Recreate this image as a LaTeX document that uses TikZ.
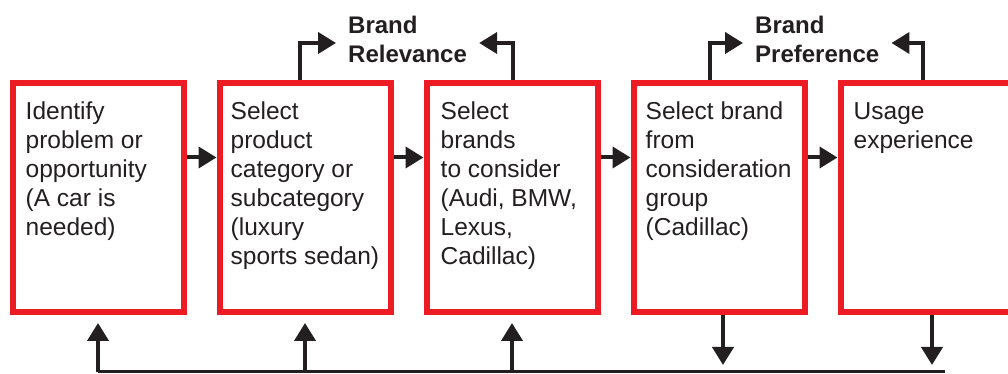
\documentclass[tikz,border=0pt]{standalone}
\usepackage{fontspec}
\setmainfont{Liberation Sans}
\usetikzlibrary{arrows.meta,positioning}
\definecolor{cStage}{HTML}{ED1C24}
\definecolor{cFlow}{HTML}{231F20}
\tikzset{
  stage/.style    ={draw=cStage, line width=6pt, minimum width=171pt, minimum height=229pt, inner sep=0pt},
  stagetext/.style={align=left, inner sep=0pt, text=cFlow, font=\fontsize{24.5}{29}\selectfont},
  tag/.style      ={align=left, inner xsep=12pt, inner ysep=0pt, text=cFlow, font=\fontsize{24}{29}\selectfont\bfseries},
  flow/.style     ={-{Triangle[length=18pt,width=21pt]}, line width=4pt, draw=cFlow},
}

\begin{document}
\begin{tikzpicture}[x=1pt,y=1pt]
        \clip (0,0) rectangle (1008,374);
        % the five stages
        \node[stage] (s1) at (98,176.5) {};
        \node[stage, right=30pt of s1] (s2) {};
        \node[stage, right=30pt of s2] (s3) {};
        \node[stage, right=30pt of s3] (s4) {};
        \node[stage, right=30pt of s4] (s5) {};
        \node[stagetext, below right=22pt and 16pt of s1.north west] (t1) {Identify\\problem or\\opportunity\\(A car is\\needed)};
        \node[stagetext, below right=22pt and 14pt of s2.north west] (t2) {Select\\product\\category or\\subcategory\\(luxury\\sports sedan)};
        \node[stagetext, below right=22pt and 17pt of s3.north west] (t3) {Select\\brands\\to consider\\(Audi, BMW,\\Lexus,\\Cadillac)};
        \node[stagetext, below right=22pt and 15pt of s4.north west] (t4) {Select brand\\from\\consideration\\group\\(Cadillac)};
        \node[stagetext, below right=22pt and 16pt of s5.north west] (t5) {Usage\\experience};
        \draw[flow] ([yshift=40pt]s1.east) -- ([yshift=40pt]s2.west);
        \draw[flow] ([yshift=40pt]s2.east) -- ([yshift=40pt]s3.west);
        \draw[flow] ([yshift=40pt]s3.east) -- ([yshift=40pt]s4.west);
        \draw[flow] ([yshift=40pt]s4.east) -- ([yshift=40pt]s5.west);
        % brand outcomes on top
        \node[tag, anchor=west] (rel) at (336,335) {Brand\\Relevance};
        \node[tag, anchor=west] (pref) at (743,335) {Brand\\Preference};
        \draw[flow] ([xshift=-5pt]s2.north) |- ([yshift=-4pt]rel.west);
        \draw[flow] ([xshift=1pt]s3.north) |- ([yshift=-4pt]rel.east);
        \draw[flow] ([xshift=-9pt]s4.north) |- ([yshift=-4pt]pref.west);
        \draw[flow] ([xshift=-3pt]s5.north) |- ([yshift=-4pt]pref.east);
        % feedback line underneath
        \coordinate (fbL) at (98,2);
        \coordinate (fbR) at (945,2);
        \draw[cFlow, line width=3pt] (fbL) -- (fbR);
        \draw[flow, shorten >=8pt] (s1.south |- fbL) -- (s1.south);
        \draw[flow, shorten >=8pt] (s2.south |- fbL) -- (s2.south);
        \draw[flow, shorten >=8pt] (s3.south |- fbL) -- (s3.south);
        \draw[flow, shorten >=7pt] ([xshift=4pt]s4.south) -- ([xshift=4pt]s4.south |- fbL);
        \draw[flow, shorten >=7pt] ([xshift=6pt]s5.south) -- ([xshift=6pt]s5.south |- fbL);
      \end{tikzpicture}
\end{document}
